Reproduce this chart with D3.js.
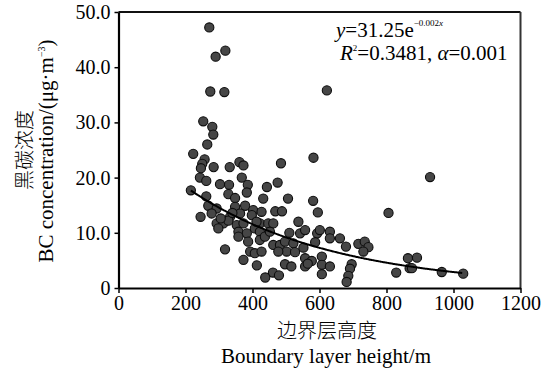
<!DOCTYPE html>
<html>
<head>
<meta charset="utf-8">
<script src="https://cdn.jsdelivr.net/npm/d3@7"></script>
<style>
  body { margin: 0; background: #fff; }
  text { font-family: "Liberation Serif", "Times New Roman", serif; }
</style>
</head>
<body>
<div id="chart"></div>
<script>
// boundary layer height (m) and BC concentration (ug/m3)
var heights = [271, 290, 319, 274, 316, 253, 280, 283, 265, 223, 257, 250, 246, 284, 332, 361, 373, 368, 243, 262,
	303, 330, 386, 443, 475, 485, 582, 622, 930, 383, 328, 216, 262, 348, 432, 506, 581, 806,
	268, 293, 278, 245, 348, 378, 402, 363, 333, 398, 427, 468, 488, 595, 293, 313, 328, 298, 353, 373,
	422, 447, 462, 537, 358, 383, 407, 422, 358, 387, 422, 437, 462, 482, 497, 510, 542, 557, 593, 601,
	631, 631, 587, 661, 679, 716, 735, 746, 731, 522, 502, 527, 552, 557, 557, 577, 497, 516, 607, 607,
	631, 607, 696, 691, 686, 681, 318, 393, 407, 427, 373, 413, 477, 461, 438, 479, 864, 891, 869, 876,
	829, 965, 1029, 565, 305, 340, 412, 452];
var bcValues = [47.2, 41.9, 43.0, 35.6, 35.5, 30.2, 29.2, 27.8, 26.0, 24.3, 23.3, 22.5, 21.7, 21.9, 21.9, 22.8, 22.2, 20.0, 20.0, 19.4,
	18.8, 18.7, 18.7, 18.3, 19.1, 22.6, 23.6, 35.8, 20.1, 17.3, 17.0, 17.7, 16.6, 16.3, 16.2, 16.2, 15.8, 13.6,
	14.9, 14.4, 13.5, 12.9, 14.7, 14.9, 14.1, 13.5, 12.9, 13.2, 13.8, 13.9, 13.9, 13.7, 11.7, 11.7, 12.2, 10.8, 11.4, 11.7,
	11.7, 11.7, 11.7, 12.0, 10.2, 9.9, 10.8, 10.2, 9.3, 8.4, 8.7, 9.3, 7.8, 7.8, 8.4, 10.0, 9.9, 10.5, 9.9, 10.5,
	10.2, 9.0, 8.3, 9.0, 7.5, 8.0, 8.4, 7.4, 6.6, 8.1, 6.6, 6.5, 7.3, 5.4, 3.9, 4.9, 4.3, 3.9, 5.7, 4.2,
	3.9, 2.5, 4.3, 3.5, 2.2, 1.1, 7.0, 6.6, 6.3, 6.6, 5.1, 4.1, 6.6, 2.8, 1.9, 2.3, 5.4, 5.5, 3.6, 3.6,
	2.8, 2.9, 2.6, 4.4, 12.6, 13.6, 12.0, 10.2];

var xTicks = [0, 200, 400, 600, 800, 1000, 1200];
var yTicks = [0, 10, 20, 30, 40, 50];

// fitted curve as drawn: y = a * exp(b * x)
var fitA = 29.1, fitB = -0.00231;
var fitRange = [216, 1029];

var width = 550, height = 369;
var margin = {left: 118.5, right: 29.5, top: 12, bottom: 81};

var svg = d3.select("#chart").append("svg")
	.attr("width", width)
	.attr("height", height);

var x = d3.scaleLinear().domain([0, 1200]).range([margin.left, width - margin.right]);
var y = d3.scaleLinear().domain([0, 50]).range([height - margin.bottom, margin.top]);

// frame
svg.append("line")
	.attr("x1", x(0)).attr("x2", x(1200))
	.attr("y1", y(50)).attr("y2", y(50))
	.attr("stroke", "#111").attr("stroke-width", 2);
svg.append("line")
	.attr("x1", x(1200)).attr("x2", x(1200))
	.attr("y1", y(50)).attr("y2", y(0))
	.attr("stroke", "#333").attr("stroke-width", 2);

var xAxis = svg.append("g")
	.attr("transform", "translate(0," + y(0) + ")")
	.call(d3.axisBottom(x).tickValues(xTicks).tickSizeInner(5).tickSizeOuter(0).tickPadding(3)
		.tickFormat(d3.format("d")));
var yAxis = svg.append("g")
	.attr("transform", "translate(" + x(0) + ",0)")
	.call(d3.axisLeft(y).tickValues(yTicks).tickSizeInner(4).tickSizeOuter(0).tickPadding(4)
		.tickFormat(function(d) { return d === 0 ? "0" : d.toFixed(1); }));

[xAxis, yAxis].forEach(function(g) {
	g.attr("font-family", "Liberation Serif").attr("font-size", 20);
	g.select(".domain").attr("stroke", "#000").attr("stroke-width", 2.2);
	g.selectAll(".tick line").attr("stroke", "#000").attr("stroke-width", 1.5);
	g.selectAll(".tick text").attr("fill", "#000");
});

// points
svg.append("g").selectAll("circle")
	.data(heights)
	.enter()
	.append("circle")
	.attr("cx", function(d) { return x(d); })
	.attr("cy", function(d, i) { return y(bcValues[i]); })
	.attr("r", 4.6)
	.attr("fill", "#464646")
	.attr("stroke", "#0d0d0d")
	.attr("stroke-width", 1.1);

// fit line
var fitX = d3.range(fitRange[0], fitRange[1] + 1, 5);
var line = d3.line()
	.x(function(d) { return x(d); })
	.y(function(d) { return y(fitA * Math.exp(fitB * d)); })
	.curve(d3.curveBasis);
svg.append("path")
	.datum(fitX)
	.attr("d", line)
	.attr("fill", "none")
	.attr("stroke", "#000")
	.attr("stroke-width", 2);

// equation
var eq1 = svg.append("text").attr("x", 336).attr("y", 37).style("font-size", "21px");
eq1.append("tspan").style("font-style", "italic").text("y");
eq1.append("tspan").text("=31.25e");
eq1.append("tspan").attr("dy", -11).style("font-size", "9px").text("−0.002");
eq1.append("tspan").style("font-size", "9px").style("font-style", "italic").text("x");

var eq2 = svg.append("text").attr("x", 340).attr("y", 60).style("font-size", "21px");
eq2.append("tspan").style("font-style", "italic").text("R");
eq2.append("tspan").attr("dy", -9).style("font-size", "9px").text("2");
eq2.append("tspan").attr("dy", 9).text("=0.3481, ");
eq2.append("tspan").style("font-style", "italic").text("α");
eq2.append("tspan").text("=0.001");

// axis titles
svg.append("text")
	.attr("x", 327).attr("y", 338)
	.attr("text-anchor", "middle")
	.style("font-family", "Noto Sans CJK SC")
	.style("font-size", "20px")
	.style("font-weight", "300")
	.text("边界层高度");
svg.append("text")
	.attr("x", 326).attr("y", 363)
	.attr("text-anchor", "middle")
	.style("font-size", "21px")
	.text("Boundary layer height/m");

svg.append("text")
	.attr("transform", "translate(32,150) rotate(-90)")
	.attr("text-anchor", "middle")
	.style("font-family", "Noto Sans CJK SC")
	.style("font-size", "20px")
	.style("font-weight", "300")
	.text("黑碳浓度");
var yt = svg.append("text")
	.attr("transform", "translate(53,151) rotate(-90)")
	.attr("text-anchor", "middle")
	.style("font-size", "21px");
yt.append("tspan").text("BC  concentration/(μg·m");
yt.append("tspan").attr("dy", -8).style("font-size", "10px").text("−3");
yt.append("tspan").attr("dy", 8).text(")");
</script>
</body>
</html>
